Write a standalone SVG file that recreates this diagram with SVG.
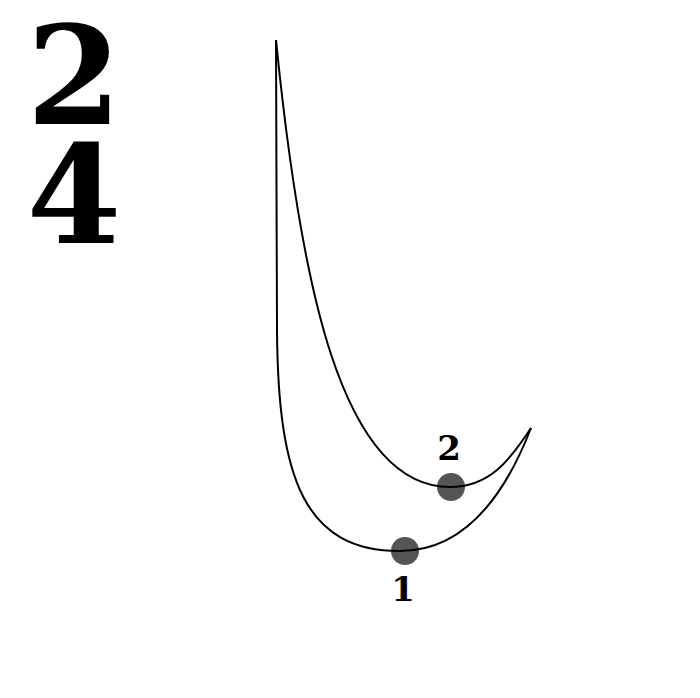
<svg xmlns="http://www.w3.org/2000/svg" width="700" height="698" viewBox="0 0 700 698">
<style>
.big{font-family:"DejaVu Serif","Liberation Serif",serif;font-weight:bold;font-size:136px;fill:#000}
.lbl{font-family:"DejaVu Serif","Liberation Serif",serif;font-weight:bold;font-size:34px;fill:#000}
.curve{fill:none;stroke:#000;stroke-width:2}
.pt{fill:#555}
</style>
<rect width="700" height="698" fill="#fff"/>
<g id="title">
<text class="big" x="74" y="124" text-anchor="middle">2</text>
<text class="big" x="74" y="243" text-anchor="middle">4</text>
</g>
<g id="point2"><circle class="pt" cx="451" cy="487" r="14"/><text class="lbl" x="449" y="460" text-anchor="middle">2</text></g>
<g id="point1"><circle class="pt" cx="405" cy="551" r="14"/><text class="lbl" x="403" y="601" text-anchor="middle">1</text></g>
<g id="connectors">
<path class="curve" d="M276,40 L277,330 C278,480 305,551 400,551 C465,551 505,495 531,428"/>
<path class="curve" d="M276,40 C300,280 340,487 450,487 C490,487 510,460 531,428"/>
</g>
</svg>
